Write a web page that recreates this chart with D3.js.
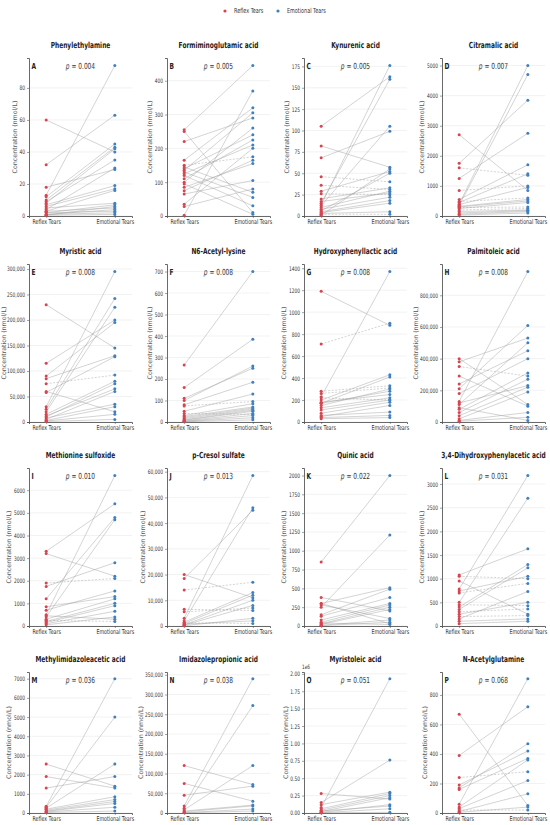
<!DOCTYPE html>
<html>
<head>
<meta charset="utf-8">
<script src="https://cdn.jsdelivr.net/npm/d3@7"></script>
<style>
  body { margin: 0; background: #fff; }
  text { font-family: "DejaVu Sans", sans-serif; }
</style>
</head>
<body>
<script>
let width = 550,
    height = 825;

// panel titles, letters and p values
let titles = ['Phenylethylamine', 'Formiminoglutamic acid', 'Kynurenic acid', 'Citramalic acid',
    'Myristic acid', 'N6-Acetyl-lysine', 'Hydroxyphenyllactic acid', 'Palmitoleic acid',
    'Methionine sulfoxide', 'p-Cresol sulfate', 'Quinic acid', '3,4-Dihydroxyphenylacetic acid',
    'Methylimidazoleacetic acid', 'Imidazolepropionic acid', 'Myristoleic acid', 'N-Acetylglutamine'];
let letters = ['A', 'B', 'C', 'D', 'E', 'F', 'G', 'H', 'I', 'J', 'K', 'L', 'M', 'N', 'O', 'P'];
let pValues = ['0.004', '0.005', '0.005', '0.007', '0.008', '0.008', '0.008', '0.008',
    '0.010', '0.013', '0.022', '0.031', '0.036', '0.038', '0.051', '0.068'];
let groups = ['Reflex Tears', 'Emotional Tears'];

// y tick step per panel (tick labels)
let tickSteps = [20, 100, 25, 1000, 50000, 100, 200, 200000,
    1000, 10000, 250, 500, 1000, 50000, 250000, 200];

// paired values, reflex[i] -> emotional[i]
let reflex = [
    [60, 32, 18, 13, 12, 10, 9, 8, 7, 6, 5, 4, 3, 3, 2, 2, 1, 1, 0.5, 0.5],
    [255, 250, 220, 165, 150, 145, 140, 135, 130, 125, 120, 110, 100, 95, 85, 75, 65, 35, 28, 2],
    [105, 82, 68, 46, 36, 29, 26, 20, 17, 15, 13, 12, 10, 8, 6, 5, 4, 3, 2, 1],
    [2700, 1750, 1600, 1250, 850, 550, 480, 450, 400, 380, 350, 320, 300, 280, 250, 200, 150, 100, 60, 30],
    [230000, 115000, 90000, 85000, 75000, 60000, 58000, 30000, 25000, 20000, 15000, 12000, 10000, 8000, 5000, 3000, 2000, 1000],
    [265, 160, 110, 100, 80, 75, 50, 30, 25, 20, 15, 10, 8, 5, 3, 2, 1, 40],
    [1190, 710, 280, 260, 230, 200, 180, 170, 150, 130, 110, 80, 60, 50, 40, 30, 170, 220],
    [400000, 380000, 350000, 290000, 240000, 210000, 180000, 130000, 110000, 80000, 60000, 40000, 20000, 10000, 5000, 120000, 90000],
    [3300, 3200, 1900, 1750, 1200, 850, 700, 500, 400, 300, 200, 100, 50, 450, 250, 150],
    [20000, 18500, 14000, 6500, 5500, 3000, 2000, 1500, 1000, 500, 300, 100, 700, 1200],
    [850, 380, 300, 280, 250, 150, 130, 80, 50, 30, 20, 10, 5, 40, 300],
    [1080, 1050, 950, 780, 740, 700, 500, 450, 400, 350, 300, 250, 200, 150, 100, 50],
    [2550, 1900, 1300, 350, 300, 250, 200, 150, 100, 80, 50, 30],
    [120000, 75000, 45000, 18000, 12000, 8000, 5000, 3000, 1000, 500],
    [280000, 150000, 120000, 80000, 40000, 20000, 10000, 5000, 30000, 60000, 2000],
    [670, 390, 240, 190, 170, 160, 60, 40, 30, 10, 5, 20]
];
let emotional = [
    [40, 63, 29, 94, 45, 43, 35, 42, 19, 17, 8, 30, 16, 5, 7, 3, 4, 2, 1, 6],
    [445, 10, 290, 320, 175, 70, 240, 305, 55, 210, 30, 225, 260, 5, 155, 165, 105, 200, 80, 370],
    [163, 57, 99, 40, 31, 52, 25, 33, 27, 160, 176, 105, 29, 22, 50, 18, 15, 5, 2, 55],
    [850, 3850, 1350, 2750, 1000, 1700, 600, 1400, 5000, 950, 4700, 550, 500, 300, 450, 250, 200, 180, 150, 100],
    [145000, 200000, 195000, 130000, 92000, 20000, 128000, 295000, 242000, 225000, 80000, 65000, 75000, 35000, 60000, 30000, 15000, 5000],
    [700, 385, 250, 260, 185, 95, 130, 85, 70, 65, 60, 55, 50, 40, 30, 20, 10, 35],
    [880, 900, 330, 310, 1370, 430, 250, 410, 300, 220, 200, 180, 90, 150, 60, 40, 280, 200],
    [110000, 530000, 290000, 100000, 450000, 610000, 400000, 950000, 500000, 310000, 270000, 220000, 190000, 60000, 30000, 230000, 10000],
    [5400, 2200, 2100, 2800, 4800, 1300, 1550, 6650, 4700, 1200, 1000, 650, 400, 300, 200, 900],
    [11000, 45000, 17000, 6000, 7000, 58500, 46000, 13000, 12000, 10000, 8000, 3000, 2000, 1000],
    [2000, 200, 510, 100, 1210, 490, 380, 300, 280, 250, 220, 80, 50, 20, 30],
    [1630, 1000, 250, 3180, 1050, 900, 2700, 430, 1300, 1230, 360, 500, 220, 730, 150, 100],
    [1400, 1300, 1900, 7000, 5000, 2550, 850, 700, 600, 500, 300, 100],
    [72000, 30000, 68000, 340000, 272000, 120000, 20000, 18000, 10000, 5000],
    [200000, 760000, 300000, 1930000, 250000, 220000, 120000, 60000, 100000, 280000, 10000],
    [50, 720, 280, 420, 470, 370, 910, 360, 220, 130, 40, 20]
];

let red = '#d64550',
    blue = '#3f80c2';

// the figure is squeezed sideways, so horizontal text is narrowed
let sq = 0.7;

let svg = d3.select('body').append('svg')
    .attr('width', width)
    .attr('height', height);

function squeezed(parent, x, y) {
    return parent.append('text')
        .attr('x', x / sq).attr('y', y)
        .attr('transform', 'scale(' + sq + ',1)');
}

// legend
let legend = svg.append('g').attr('class', 'legend');
[[225, red, groups[0]], [278, blue, groups[1]]].forEach(l => {
    legend.append('circle').attr('cx', l[0]).attr('cy', 11).attr('r', 1.6).attr('fill', l[1]);
    squeezed(legend, l[0] + 9, 13.5)
        .attr('font-size', 7).attr('fill', '#333').text(l[2]);
});

let colLeft = [29, 167, 304, 442],
    rowTop = [58, 264, 468, 672],
    rowBottom = [216, 422, 626, 813],
    plotWidth = 103;

function tickFormat(i) {
    if (i === 14) return d => d3.format('.2f')(d / 1e6);
    if (tickSteps[i] >= 10000) return d3.format(',');
    return d3.format('d');
}

titles.forEach((title, i) => {
    let col = i % 4, row = Math.floor(i / 4);
    let left = colLeft[col], top = rowTop[row], bottom = rowBottom[row];
    let g = svg.append('g').attr('class', 'panel');

    let maxVal = d3.max(reflex[i].concat(emotional[i]));
    let x = d3.scaleLinear().domain([-0.25, 1.25]).range([left, left + plotWidth]);
    let y = d3.scaleLinear().domain([0, maxVal * 1.05]).range([bottom, top]);
    let ticks = d3.range(0, maxVal * 1.05 + 1e-9, tickSteps[i]);

    // grid
    g.selectAll('line.grid').data(ticks).enter().append('line')
        .attr('class', 'grid')
        .attr('x1', left).attr('x2', left + plotWidth)
        .attr('y1', d => y(d)).attr('y2', d => y(d))
        .attr('stroke', '#e4e4e4').attr('stroke-width', 0.5);

    // y axis
    let yAxis = g.append('g')
        .attr('transform', 'translate(' + left + ',0)')
        .call(d3.axisLeft(y).tickValues(ticks).tickFormat(tickFormat(i)).tickSize(2).tickPadding(2));
    yAxis.select('.domain').attr('stroke', '#444').attr('stroke-width', 0.8);
    yAxis.selectAll('.tick line').attr('stroke', '#444').attr('stroke-width', 0.5);
    yAxis.selectAll('.tick text')
        .attr('font-size', 6.2).attr('fill', '#333')
        .attr('font-family', '"DejaVu Sans", sans-serif')
        .attr('x', -4 / sq)
        .attr('transform', 'scale(' + sq + ',1)');

    // x axis
    let xAxis = g.append('g')
        .attr('transform', 'translate(0,' + bottom + ')')
        .call(d3.axisBottom(x).tickValues([0, 1]).tickFormat((d, k) => groups[k]).tickSize(2).tickPadding(1.5));
    xAxis.select('.domain').attr('stroke', '#444').attr('stroke-width', 0.8);
    xAxis.selectAll('.tick line').attr('stroke', '#444').attr('stroke-width', 0.5);
    xAxis.selectAll('.tick text')
        .attr('font-size', 6.8).attr('fill', '#333')
        .attr('font-family', '"DejaVu Sans", sans-serif')
        .attr('transform', 'scale(' + sq + ',1)');

    // y label, left of tick labels
    let box = yAxis.node().getBBox();
    let labelX = Math.max(6, left + box.x - 2.5);
    g.append('text')
        .attr('transform', 'translate(' + labelX + ',' + ((top + bottom) / 2) + ') rotate(-90)')
        .attr('text-anchor', 'middle')
        .attr('font-size', 6.3)
        .attr('fill', '#555')
        .text('Concentration (nmol/L)');

    if (i === 14) {
        squeezed(g, left - 2, top - 3)
            .attr('font-size', 6).attr('fill', '#333').text('1e6');
    }

    // paired lines
    let pairs = reflex[i].map((r, k) => ({r: r, e: emotional[i][k]}));
    g.selectAll('line.pair').data(pairs).enter().append('line')
        .attr('class', 'pair')
        .attr('x1', x(0)).attr('x2', x(1))
        .attr('y1', d => y(d.r)).attr('y2', d => y(d.e))
        .attr('stroke', '#999').attr('stroke-width', 0.5).attr('stroke-opacity', 0.85)
        .attr('stroke-dasharray', d => {
            let ratio = (d.e + 1e-9) / (d.r + 1e-9);
            return (ratio > 0.75 && ratio < 1.3) ? '2,1.5' : null;
        });

    // points
    g.selectAll('circle.reflex').data(reflex[i]).enter().append('circle')
        .attr('class', 'reflex')
        .attr('cx', x(0)).attr('cy', d => y(d)).attr('r', 1.5).attr('fill', red);
    g.selectAll('circle.emotional').data(emotional[i]).enter().append('circle')
        .attr('class', 'emotional')
        .attr('cx', x(1)).attr('cy', d => y(d)).attr('r', 1.5).attr('fill', blue);

    // title, letter, p value
    squeezed(g, left + plotWidth / 2, top - 10)
        .attr('text-anchor', 'middle')
        .attr('font-size', 8.4).attr('font-weight', 'bold').attr('fill', '#222')
        .text(title);
    squeezed(g, left + 2.5, top + 11)
        .attr('font-size', 8.4).attr('font-weight', 'bold').attr('fill', '#222')
        .text(letters[i]);
    let pt = squeezed(g, left + plotWidth / 2, top + 11)
        .attr('text-anchor', 'middle')
        .attr('font-size', 8.4).attr('fill', '#333');
    pt.append('tspan').attr('font-style', 'italic').text('p');
    pt.append('tspan').text(' = ' + pValues[i]);
});
</script>
</body>
</html>
